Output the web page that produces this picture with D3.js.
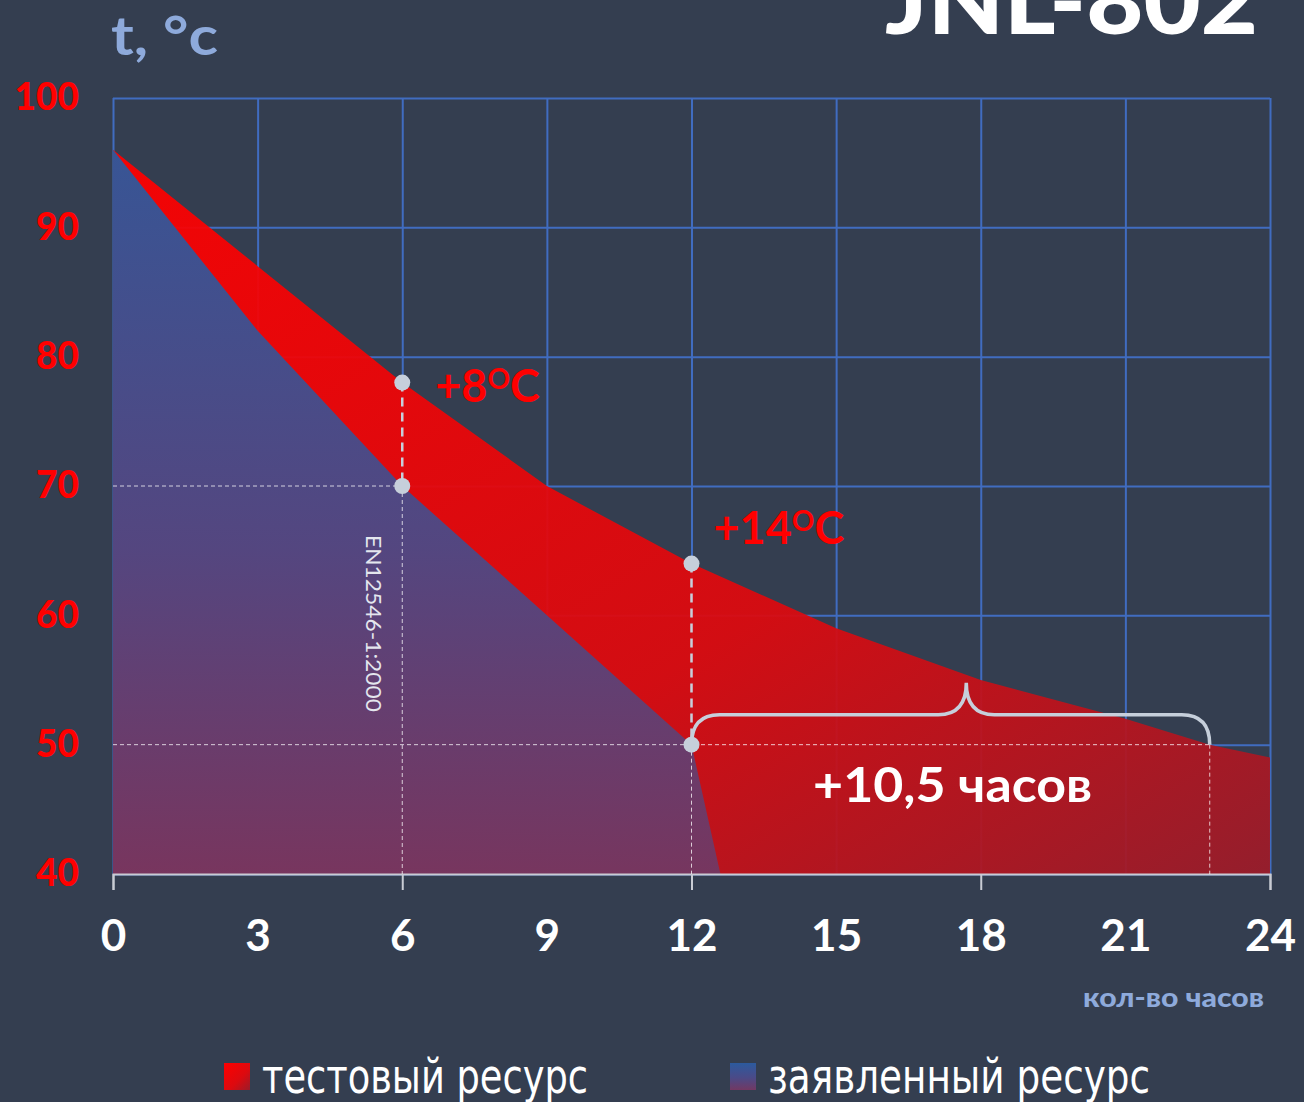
<!DOCTYPE html>
<html>
<head>
<meta charset="utf-8">
<script src="https://cdn.jsdelivr.net/npm/d3@7"></script>
<style>
  body { margin: 0; background: #343e50; }
  svg { display: block; }
</style>
</head>
<body>
<div id="chart"></div>
<script>
// data
var hourTicks = [0, 3, 6, 9, 12, 15, 18, 21, 24];
var tempTicks = [40, 50, 60, 70, 80, 90, 100];

var testHours = [0, 3, 6, 9, 12, 15, 18, 21, 22.75, 24];
var testTemps = [96, 87, 78, 70, 64, 59, 55, 52, 50, 49];

var declHours = [0, 3, 6, 9, 12, 12.6];
var declTemps = [96, 82, 70, 60, 50, 40];

var seriesNames = ["тестовый ресурс", "заявленный ресурс"];

var svgWidth = 1304;
var svgHeight = 1102;
var margin = { top: 98, right: 34, bottom: 228, left: 113 };
var width = svgWidth - margin.left - margin.right;
var height = svgHeight - margin.top - margin.bottom;

var svg = d3.select("#chart")
  .append("svg")
  .attr("width", svgWidth)
  .attr("height", svgHeight);

svg.append("rect")
  .attr("width", svgWidth)
  .attr("height", svgHeight)
  .attr("fill", "#343e50");

var defs = svg.append("defs");

var redGrad = defs.append("linearGradient")
  .attr("id", "redGrad")
  .attr("x1", 0).attr("y1", 0).attr("x2", 1).attr("y2", 1);
redGrad.append("stop").attr("offset", 0).attr("stop-color", "#ff0000");
redGrad.append("stop").attr("offset", 0.6).attr("stop-color", "#dc0a0f");
redGrad.append("stop").attr("offset", 1).attr("stop-color", "#9a1c2a");

var blueGrad = defs.append("linearGradient")
  .attr("id", "blueGrad")
  .attr("x1", 0).attr("y1", 0).attr("x2", 0).attr("y2", 1);
blueGrad.append("stop").attr("offset", 0).attr("stop-color", "#2c5a9e");
blueGrad.append("stop").attr("offset", 0.55).attr("stop-color", "#4b4a87");
blueGrad.append("stop").attr("offset", 1).attr("stop-color", "#723863");

var chartGroup = svg.append("g")
  .attr("transform", `translate(${margin.left}, ${margin.top})`);

// scales
var x = d3.scaleLinear().domain([0, 24]).range([0, width]);
var y = d3.scaleLinear().domain([40, 100]).range([height, 0]);

// grid
var gridColor = "#406cc0";
var xGrid = chartGroup.append("g")
  .call(d3.axisBottom(x).tickValues(hourTicks).tickSize(height).tickFormat(""));
xGrid.select(".domain").remove();
xGrid.selectAll("line").attr("stroke", gridColor).attr("stroke-width", 2);

var yGrid = chartGroup.append("g")
  .call(d3.axisLeft(y).tickValues(tempTicks).tickSize(-width).tickFormat(""));
yGrid.select(".domain").remove();
yGrid.selectAll("line").attr("stroke", gridColor).attr("stroke-width", 2);

// areas
var testData = testHours.map((h, i) => ({ h: h, t: testTemps[i] }));
var declData = declHours.map((h, i) => ({ h: h, t: declTemps[i] }));

var area = d3.area()
  .x(d => x(d.h))
  .y0(y(40))
  .y1(d => y(d.t));

chartGroup.append("path")
  .datum(testData)
  .attr("d", area)
  .attr("fill", "url(#redGrad)")
  .attr("fill-opacity", 0.94);

chartGroup.append("path")
  .datum(declData)
  .attr("d", area)
  .attr("fill", "url(#blueGrad)")
  .attr("fill-opacity", 0.94);

// x axis
var xAxis = chartGroup.append("g")
  .attr("transform", `translate(0, ${height})`)
  .call(d3.axisBottom(x).tickValues(hourTicks).tickSize(16).tickPadding(30));
xAxis.select(".domain").attr("stroke", "#c9ccd4").attr("stroke-width", 2);
xAxis.selectAll(".tick line")
  .attr("stroke", "#c9ccd4")
  .attr("stroke-width", 2)
  .attr("opacity", d => d % 6 === 0 ? 1 : 0);
xAxis.selectAll(".tick text")
  .attr("fill", "#ffffff")
  .attr("font-family", "Lato, 'Noto Sans', sans-serif")
  .attr("font-weight", "bold")
  .attr("font-size", 44);

// y axis labels
var yAxis = chartGroup.append("g")
  .call(d3.axisLeft(y).tickValues(tempTicks).tickSize(0).tickPadding(34));
yAxis.select(".domain").remove();
yAxis.selectAll(".tick text")
  .attr("fill", "#ff0000")
  .attr("font-family", "Lato, 'Noto Sans', sans-serif")
  .attr("font-weight", "900")
  .attr("font-size", 37);

// dashed guides
var thin = { stroke: "#ffffff", "stroke-opacity": 0.75, "stroke-width": 1, "stroke-dasharray": "4,3" };
var thick = { stroke: "#c6cfdb", "stroke-width": 2.5, "stroke-dasharray": "9,6" };
function guide(x1, y1, x2, y2, st) {
  var l = chartGroup.append("line")
    .attr("x1", x1).attr("y1", y1).attr("x2", x2).attr("y2", y2);
  Object.keys(st).forEach(k => l.attr(k, st[k]));
}
guide(x(0), y(70), x(6), y(70), thin);
guide(x(6), y(70), x(6), y(40), thin);
guide(x(6), y(78), x(6), y(70), thick);
guide(x(0), y(50), x(22.75), y(50), thin);
guide(x(12), y(50), x(12), y(40), thin);
guide(x(12), y(64), x(12), y(50), thick);
guide(x(22.75), y(50), x(22.75), y(40), thin);

// curly bracket
var by = y(50) - 30, bp = y(50) - 62, br = 28, bpk = x(17.7);
var bx0 = x(12), bx1 = x(22.75);
chartGroup.append("path")
  .attr("d", `M${bx0},${y(50)} Q${bx0},${by} ${bx0 + br},${by} L${bpk - br},${by} ` +
    `Q${bpk},${by} ${bpk},${bp} Q${bpk},${by} ${bpk + br},${by} L${bx1 - br},${by} ` +
    `Q${bx1},${by} ${bx1},${y(50)}`)
  .attr("fill", "none")
  .attr("stroke", "#c6cfdb")
  .attr("stroke-width", 3.5);

// dots
var dots = [[6, 78], [6, 70], [12, 64], [12, 50]];
chartGroup.selectAll(".dot")
  .data(dots)
  .enter()
  .append("circle")
  .attr("cx", d => x(d[0]))
  .attr("cy", d => y(d[1]))
  .attr("r", 8)
  .attr("fill", "#c6cfdb");

// annotations
function degLabel(px, py, num) {
  var t = chartGroup.append("text")
    .attr("x", px).attr("y", py)
    .attr("fill", "#ff0000")
    .attr("font-family", "Lato, 'Noto Sans', sans-serif")
    .attr("font-weight", "bold")
    .attr("font-size", 45);
  t.append("tspan").text(num);
  t.append("tspan").attr("font-size", 28).attr("dy", -13).text("O");
  t.append("tspan").attr("dy", 13).text("C");
}
degLabel(x(6) + 33, y(78) + 19, "+8");
degLabel(x(12) + 22, y(64) - 20, "+14");

chartGroup.append("text")
  .attr("x", (x(12) + x(22.75)) / 2 + 2)
  .attr("y", y(50) + 57)
  .attr("text-anchor", "middle")
  .attr("fill", "#ffffff")
  .attr("font-family", "Lato, 'Noto Sans', sans-serif")
  .attr("font-weight", "bold")
  .attr("font-size", 48)
  .attr("textLength", 279)
  .attr("lengthAdjust", "spacingAndGlyphs")
  .text("+10,5 часов");

chartGroup.append("text")
  .attr("transform", `translate(${x(6) - 36}, ${y(70) + 49}) rotate(90)`)
  .attr("fill", "#e4e6ee")
  .attr("font-family", "Lato, 'Noto Sans', sans-serif")
  .attr("font-size", 22)
  .attr("textLength", 177)
  .attr("lengthAdjust", "spacingAndGlyphs")
  .text("EN12546-1:2000");

// titles
svg.append("text")
  .attr("x", 1258).attr("y", 34)
  .attr("text-anchor", "end")
  .attr("fill", "#ffffff")
  .attr("font-family", "Lato, 'DejaVu Sans', sans-serif")
  .attr("font-weight", "900")
  .attr("font-size", 92)
  .attr("textLength", 373)
  .attr("lengthAdjust", "spacingAndGlyphs")
  .text("JNL-802");

svg.append("text")
  .attr("x", 111).attr("y", 55)
  .attr("fill", "#8eaadb")
  .attr("font-family", "Lato, 'Noto Sans', sans-serif")
  .attr("font-weight", "bold")
  .attr("font-size", 54)
  .attr("textLength", 107)
  .attr("lengthAdjust", "spacingAndGlyphs")
  .text("t, °c");

svg.append("text")
  .attr("x", 1264).attr("y", 1007)
  .attr("text-anchor", "end")
  .attr("fill", "#8eaadb")
  .attr("font-family", "Lato, 'Noto Sans', sans-serif")
  .attr("font-weight", "900")
  .attr("font-size", 27)
  .attr("textLength", 181)
  .attr("lengthAdjust", "spacingAndGlyphs")
  .text("кол-во часов");

// legend
var legendX = [224, 730];
var legendW = [326, 382];
var legendFill = ["url(#redGrad)", "url(#blueGrad)"];
var legend = svg.selectAll(".legend")
  .data(seriesNames)
  .enter()
  .append("g")
  .attr("transform", (d, i) => `translate(${legendX[i]}, 1063)`);
legend.append("rect")
  .attr("width", 26).attr("height", 27)
  .attr("fill", (d, i) => legendFill[i]);
legend.append("text")
  .attr("x", 38).attr("y", 30)
  .attr("fill", "#ffffff")
  .attr("font-family", "'DejaVu Sans Condensed', 'Noto Sans', sans-serif")
  .attr("font-size", 48)
  .attr("textLength", (d, i) => legendW[i])
  .attr("lengthAdjust", "spacingAndGlyphs")
  .text(d => d);
</script>
</body>
</html>
